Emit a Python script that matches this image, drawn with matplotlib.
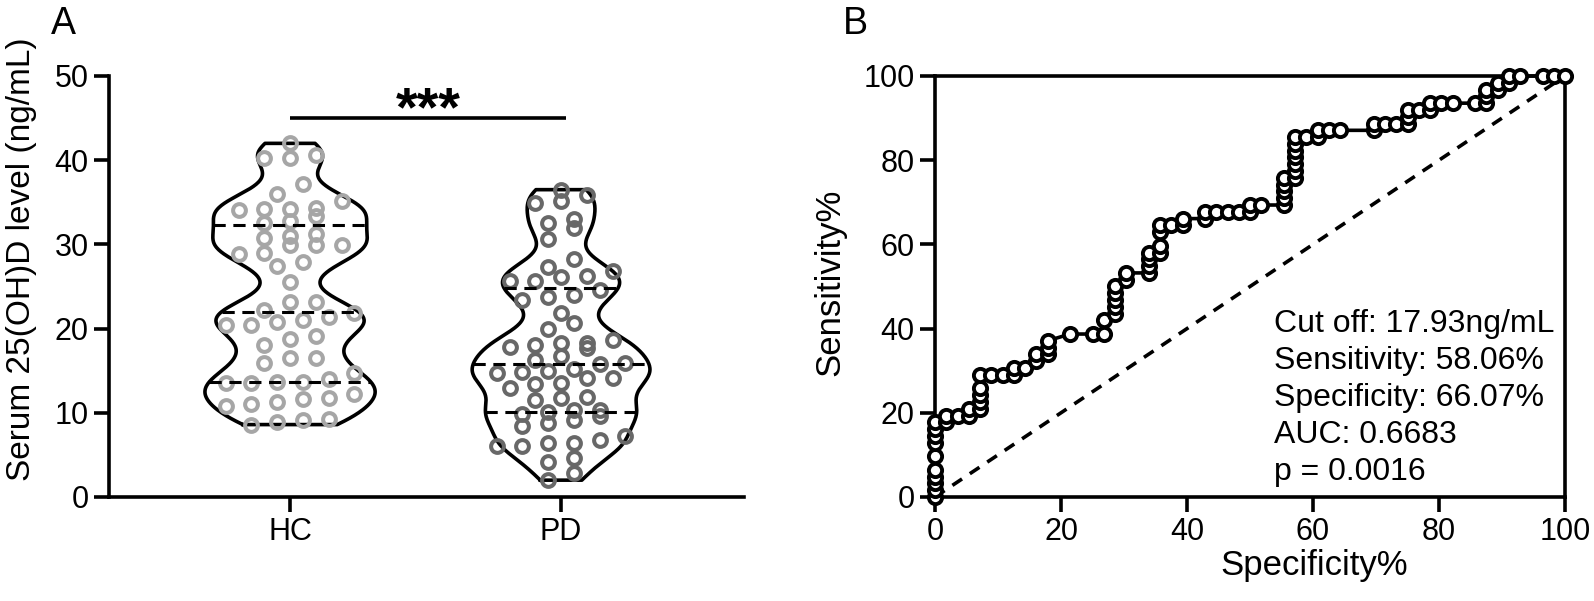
import matplotlib.pyplot as plt
import numpy as np

plt.rcParams['font.family'] = ['Liberation Sans', 'DejaVu Sans']

# serum 25(OH)D (ng/mL), one value per circle
hc = [8.6, 8.9, 9.1, 9.3, 10.8, 11.0, 11.3, 11.6, 11.7, 12.2,
      13.5, 13.5, 13.6, 13.6, 14.0, 14.7, 15.9, 16.5, 16.5, 18.0,
      18.8, 19.1, 20.4, 20.4, 20.8, 21.0, 21.4, 21.8, 22.2, 23.1,
      23.1, 25.5, 27.4, 27.9, 28.9, 29.0, 29.9, 29.9, 29.9, 30.8,
      31.0, 31.2, 32.6, 32.8, 33.4, 34.1, 34.2, 34.2, 34.3, 35.2,
      36.0, 37.2, 40.3, 40.3, 40.6, 42.0]
pd_vals = [2.0, 2.8, 4.2, 4.6, 6.0, 6.0, 6.4, 6.4, 6.8, 7.2,
           8.4, 8.75, 9.2, 9.6, 9.9, 10.1, 10.3, 10.3, 11.5, 11.7,
           11.9, 13.0, 13.4, 13.5, 14.1, 14.1, 14.7, 14.9, 15.0, 15.2,
           15.8, 15.9, 16.3, 16.7, 17.7, 17.85, 18.1, 18.3, 18.3, 18.6,
           20.0, 20.7, 21.9, 23.4, 23.8, 24.0, 24.6, 25.6, 25.7, 26.1,
           26.2, 26.8, 27.3, 28.3, 30.7, 31.9, 32.5, 33.0, 34.9, 35.1,
           35.9, 36.5]
groups = ["HC", "PD"]
group_colors = ["#a6a6a6", "#686868"]
stats_lines = ["Cut off: 17.93ng/mL", "Sensitivity: 58.06%",
               "Specificity: 66.07%", "AUC: 0.6683", "p = 0.0016"]


def swarm(vals, step, h):
    # GraphPad-like rows: points closer than h share a row, spread evenly
    v = np.sort(np.asarray(vals, float))
    xs = np.zeros(len(v))
    i = 0
    while i < len(v):
        j = i
        while j < len(v) and v[j] - v[i] < h:
            j += 1
        n = j - i
        xs[i:j] = (np.arange(n) - (n - 1) / 2) * step
        i = j
    return v, xs


def kde(vals, bw, y):
    v = np.asarray(vals, float)
    d = np.exp(-0.5 * ((y[:, None] - v[None, :]) / bw) ** 2).sum(1)
    return d


fig = plt.figure(figsize=(15.94, 6.01), dpi=100)
axA = fig.add_axes([109 / 1594, 104 / 601, 635 / 1594, 421 / 601])
axB = fig.add_axes([935 / 1594, 104 / 601, 630 / 1594, 421 / 601])

LW = 2.6

# ---- panel A: violins
for k, (vals, col, half) in enumerate(zip([hc, pd_vals], group_colors, [0.314, 0.328])):
    v = np.asarray(vals)
    y = np.linspace(v.min(), v.max(), 400)
    d = kde(v, 1.75, y)
    d = d / d.max() * half
    xo = np.r_[k - d, (k + d)[::-1], k - d[0]]
    yo = np.r_[y, y[::-1], y[0]]
    axA.plot(xo, yo, color='k', lw=LW, zorder=2, solid_joinstyle='round')
    sv, sx = swarm(v, 0.095, 1.5)
    axA.plot(k + sx, sv, 'o', ms=9.2, mew=2.9, mfc='none', mec=col, zorder=3, clip_on=False)
    for q in np.percentile(v, [25, 50, 75], method='weibull'):
        hw = np.interp(q, y, d)
        axA.plot([k - hw, k + hw], [q, q], color='k', lw=2.2, dashes=(4, 2.5), zorder=4)

axA.plot([0, 1.02], [45, 45], color='k', lw=LW, solid_capstyle='butt')
axA.text(0.51, 44.2, "***", ha='center', va='baseline', fontsize=40, fontweight='bold')

axA.set_xlim(-0.668, 1.675)
axA.set_ylim(0, 50)
axA.set_xticks([0, 1])
axA.set_xticklabels(groups)
axA.set_yticks(range(0, 51, 10))
for s in ['top', 'right']:
    axA.spines[s].set_visible(False)

# ---- panel B: ROC, low 25(OH)D -> PD
hcv = np.asarray(hc)
pdv = np.asarray(pd_vals)
u = np.unique(np.r_[hcv, pdv])
cuts = np.r_[u[0] - 1, (u[:-1] + u[1:]) / 2, u[-1] + 1]
sens = np.array([(pdv < c).mean() * 100 for c in cuts])
fpr = np.array([(hcv < c).mean() * 100 for c in cuts])
axB.plot([0, 100], [0, 100], color='k', lw=LW, dashes=(3.2, 2.6))
axB.plot(fpr, sens, '-o', color='k', lw=LW, ms=9.5, mew=2.8, mfc='white', clip_on=False, zorder=3)
for i, t in enumerate(stats_lines):
    axB.text(53.8, 39.3 - 8.8 * i, t, ha='left', va='baseline', fontsize=23)

axB.set_xlim(0, 100)
axB.set_ylim(0, 100)
axB.set_xticks(range(0, 101, 20))
axB.set_yticks(range(0, 101, 20))

for ax in (axA, axB):
    for s in ax.spines.values():
        s.set_linewidth(LW)
    ax.tick_params(width=LW, length=10.5, labelsize=22, pad=4, direction='out')
    ax.tick_params(axis='x', pad=4)

fig.text(22 / 1594, 1 - 259 / 601, "Serum 25(OH)D level (ng/mL)", rotation=90,
         ha='center', va='center', fontsize=24)
fig.text(830 / 1594, 1 - 282 / 601, "Sensitivity%", rotation=90,
         ha='center', va='center', fontsize=25)
fig.text(1314 / 1594, 1 - 575 / 601, "Specificity%", ha='center', va='baseline', fontsize=25)
fig.text(63 / 1594, 1 - 34.5 / 601, "A", ha='center', va='baseline', fontsize=27)
fig.text(855 / 1594, 1 - 34.5 / 601, "B", ha='center', va='baseline', fontsize=27)

fig.savefig("out.png", dpi=100)
